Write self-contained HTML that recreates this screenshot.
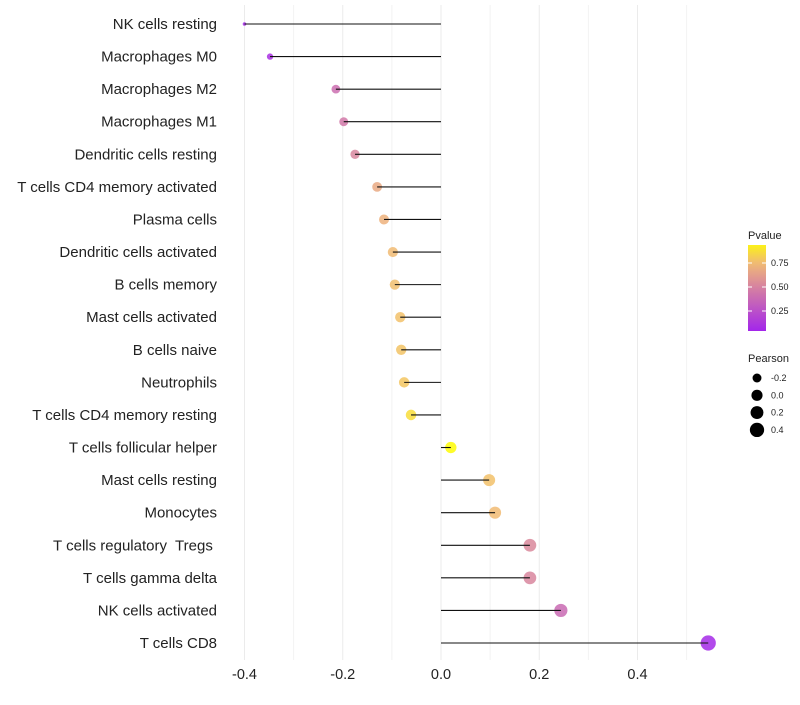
<!DOCTYPE html>
<html><head><meta charset="utf-8"><style>
body{margin:0;background:#fff;}
svg{font-family:"Liberation Sans",sans-serif;}
text{white-space:pre;}
</style></head><body>
<svg id="chart" width="800" height="700"></svg>
<script>
const categories=["NK cells resting","Macrophages M0","Macrophages M2","Macrophages M1","Dendritic cells resting","T cells CD4 memory activated","Plasma cells","Dendritic cells activated","B cells memory","Mast cells activated","B cells naive","Neutrophils","T cells CD4 memory resting","T cells follicular helper","Mast cells resting","Monocytes","T cells regulatory  Tregs ","T cells gamma delta","NK cells activated","T cells CD8"];
const pearson=[-0.40,-0.348,-0.214,-0.198,-0.175,-0.130,-0.116,-0.098,-0.094,-0.083,-0.081,-0.075,-0.061,0.020,0.098,0.110,0.181,0.181,0.244,0.544];
const pvalues=[0.05,0.08,0.40,0.45,0.52,0.68,0.72,0.76,0.77,0.78,0.79,0.80,0.88,0.99,0.78,0.76,0.53,0.52,0.38,0.05];
const xTicks=[-0.4,-0.2,0.0,0.2,0.4];
const xMinor=[-0.3,-0.1,0.1,0.3,0.5];
const legendP=[0.25,0.50,0.75];
const legendS=[-0.2,0.0,0.2,0.4];

const NS="http://www.w3.org/2000/svg";
const svg=document.getElementById('chart');
const x=v=>441+v*491.25;
const y=i=>24+i*(643-24)/19;
const r=v=>1.8+5.8*Math.sqrt(Math.max(0,(v+0.4)/0.944));
function lerp(a,b,t){return Math.round(a+(b-a)*t);}
const stops=[[0,[160,32,240]],[0.5,[214,130,160]],[0.75,[240,184,120]],[1,[255,255,0]]];
function col(p){for(let k=1;k<stops.length;k++){if(p<=stops[k][0]){const t=(p-stops[k-1][0])/(stops[k][0]-stops[k-1][0]);const a=stops[k-1][1],b=stops[k][1];return `rgb(${lerp(a[0],b[0],t)},${lerp(a[1],b[1],t)},${lerp(a[2],b[2],t)})`;}}return 'rgb(255,255,0)';}
function el(t,a,txt){const e=document.createElementNS(NS,t);for(const k in a)e.setAttribute(k,a[k]);if(txt!==undefined)e.textContent=txt;svg.appendChild(e);return e;}

xMinor.forEach(v=>{const g=el('line',{x1:x(v),x2:x(v),y1:5,y2:660,stroke:'#f2f2f2','stroke-width':1});

});
xTicks.forEach(v=>{const g=el('line',{x1:x(v),x2:x(v),y1:5,y2:660,stroke:'#ebebeb','stroke-width':1});


const t=el('text',{x:x(v),y:679,'text-anchor':'middle','font-size':14.5,fill:'#222'},v.toFixed(1));

});

categories.forEach((c,i)=>{
const t=el('text',{x:217,y:y(i)+5,'text-anchor':'end','font-size':15,fill:'#222'},c);


const d=el('circle',{cx:x(pearson[i]),cy:y(i),r:r(pearson[i]),fill:col(pvalues[i]),'fill-opacity':0.85});


const l=el('line',{x1:x(pearson[i]),x2:x(0),y1:y(i),y2:y(i),stroke:'#111','stroke-width':1.1});


});

const defs=el('defs',{});
const lg=document.createElementNS(NS,'linearGradient');lg.setAttribute('id','pg');lg.setAttribute('x1','0');lg.setAttribute('y1','1');lg.setAttribute('x2','0');lg.setAttribute('y2','0');
for(let k=0;k<=10;k++){const s=document.createElementNS(NS,'stop');const p=0.03+k*0.092;s.setAttribute('offset',k/10);s.setAttribute('stop-color',col(p));lg.appendChild(s);}
defs.appendChild(lg);
const lt=el('text',{x:748,y:239,'font-size':11,fill:'#222'},'Pvalue');


const bar=el('rect',{x:748,y:245,width:18,height:86,fill:'url(#pg)'});


const py=p=>287-(p-0.5)*(24/0.25);
legendP.forEach(p=>{
el('line',{x1:748,x2:752,y1:py(p),y2:py(p),stroke:'#fff'});el('line',{x1:762,x2:766,y1:py(p),y2:py(p),stroke:'#fff'});
const t=el('text',{x:771,y:py(p)+3,'font-size':9,fill:'#222'},p.toFixed(2));

});
const st=el('text',{x:748,y:362,'font-size':11,fill:'#222'},'Pearson');


legendS.forEach((v,k)=>{const cy=378+k*17.3;
const c=el('circle',{cx:757,cy:cy,r:r(v),fill:'#000'});


const t=el('text',{x:771,y:cy+3,'font-size':9,fill:'#222'},v.toFixed(1));

});
</script>
</body></html>
